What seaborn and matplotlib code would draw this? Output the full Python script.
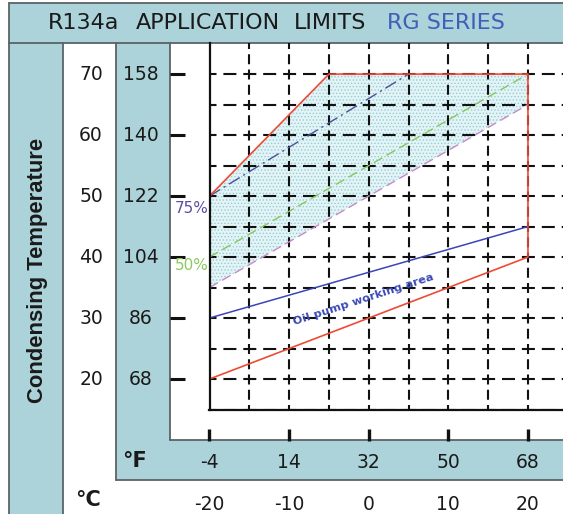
import matplotlib
matplotlib.use('Agg')
import matplotlib.pyplot as plt
import seaborn as sns
import pandas as pd
import numpy as np
from matplotlib.patches import Rectangle, Polygon
from matplotlib.lines import Line2D

# ---------------- data (°C) ----------------
envelope_x = [-20, -20, -5, 20, 20, -20]
envelope_y = [20, 50, 70, 70, 40, 20]
oil_x = [-20, 20]
oil_y = [30, 45]
pct75_x = [-20, 5]
pct75_y = [50, 70]
pct50_x = [-20, 20]
pct50_y = [40, 70]
lower_x = [-20, 20]
lower_y = [35, 65]
cond_c = [20, 30, 40, 50, 60, 70]
cond_f = ['68', '86', '104', '122', '140', '158']
evap_c = [-20, -10, 0, 10, 20]
evap_f = ['-4', '14', '32', '50', '68']
title_words = ['R134a', 'APPLICATION', 'LIMITS', 'RG SERIES']
oil_label = 'Oil pump working area'
y_title = 'Condensing Temperature'

sns.set_style('white')
plt.rcParams['font.family'] = ['DejaVu Sans']
plt.rcParams['hatch.linewidth'] = 0.6
plt.rcParams['lines.scale_dashes'] = False

W, H = 563, 514
fig = plt.figure(figsize=(W / 100, H / 100), dpi=100)
fig.patch.set_facecolor('white')

TEAL = '#abd3d9'
GRAY = '#5a6366'


def fx(x):
    return x / W


def fy(y):
    return 1 - y / H


def rect(x0, y0, x1, y1, color):
    fig.patches.append(Rectangle((fx(x0), fy(y1)), fx(x1) - fx(x0), fy(y0) - fy(y1),
                                 transform=fig.transFigure, facecolor=color,
                                 edgecolor='none', zorder=-2))


def hline(x0, x1, y, lw=1.3):
    fig.lines.append(Line2D([fx(x0), fx(x1)], [fy(y), fy(y)], transform=fig.transFigure,
                            color=GRAY, lw=lw, zorder=-1))


def vline(x, y0, y1, lw=1.3):
    fig.lines.append(Line2D([fx(x), fx(x)], [fy(y0), fy(y1)], transform=fig.transFigure,
                            color=GRAY, lw=lw, zorder=-1))


# background bands
rect(9, 3, W, 43, TEAL)
rect(9, 43, 63, H, TEAL)
rect(116, 43, 170, 480, TEAL)
rect(116, 440, W, 480, TEAL)
hline(9, W, 3)
vline(9, 3, H)
hline(9, W, 43)
vline(63, 43, H)
vline(116, 43, 480)
vline(170, 43, 440)
hline(170, W, 440)
hline(116, W, 480)

# title
title_cx = [83.5, 207.5, 330, 445.5]
title_col = ['#1a1a1a', '#1a1a1a', '#1a1a1a', '#3f5fb8']
for w, x, c in zip(title_words, title_cx, title_col):
    fig.text(fx(x), fy(23), w, fontsize=16, color=c, ha='center', va='center',
             fontweight='medium')

fig.text(fx(38), fy(270), y_title, rotation=90, fontsize=15.8, fontweight='bold',
         family='Liberation Sans', color='#1a1a1a', ha='center', va='center')
fig.text(fx(122), fy(461), '°F', fontsize=15, fontweight='bold', color='#1a1a1a',
         ha='left', va='center')
fig.text(fx(75), fy(500), '°C', fontsize=15, fontweight='bold', color='#1a1a1a',
         ha='left', va='center')

# ---------------- main axes ----------------
ax = fig.add_axes([fx(209.5), fy(409.5), fx(W) - fx(209.5), fy(43) - fy(409.5)])
ax.set_zorder(3)
ax.set_facecolor('none')
ax.set_xlim(-20, 24.4)
ax.set_ylim(15, 75.1)

# shaded 50-75% region
poly = [(lower_x[0], lower_y[0]), (envelope_x[1], envelope_y[1]),
        (envelope_x[2], envelope_y[2]), (envelope_x[3], envelope_y[3]),
        (lower_x[1], lower_y[1])]
ax.add_patch(Polygon(poly, closed=True, facecolor='#e3f4f6', edgecolor='#96cbd4',
                     hatch='.....', lw=0, zorder=1))

# grid
ax.set_xticks(np.arange(-20, 25, 5))
ax.set_yticks(np.arange(15, 75, 5))
ax.tick_params(length=0, labelbottom=False, labelleft=False)
px_pt = 0.72
ax.xaxis.grid(True, color='#111111', lw=1.5,
              linestyle=(5 * px_pt, (10 * px_pt, 5.25 * px_pt)), zorder=2)
ax.yaxis.grid(True, color='#111111', lw=1.5,
              linestyle=(6.5 * px_pt, (13 * px_pt, 6.9 * px_pt)), zorder=2)
ax.set_axisbelow(False)
for s in ['top', 'right']:
    ax.spines[s].set_visible(False)
for s in ['left', 'bottom']:
    ax.spines[s].set_color('#111111')
    ax.spines[s].set_linewidth(1.6)
    ax.spines[s].set_zorder(4)

# lines
sns.lineplot(x=pct75_x, y=pct75_y, ax=ax, color='#4a4f98', lw=1.0, sort=False,
             estimator=None, linestyle=(0, (9, 3, 1.5, 3)), zorder=3)
sns.lineplot(x=pct50_x, y=pct50_y, ax=ax, color='#86c85a', lw=1.0, sort=False,
             estimator=None, linestyle=(0, (7, 3.5)), zorder=3)
sns.lineplot(x=lower_x, y=lower_y, ax=ax, color='#c78ac8', lw=1.0, sort=False,
             estimator=None, linestyle=(0, (7, 3.5)), zorder=3)
sns.lineplot(x=oil_x, y=oil_y, ax=ax, color='#3b45b5', lw=1.1, sort=False,
             estimator=None, zorder=3)
sns.lineplot(x=envelope_x, y=envelope_y, ax=ax, color='#ee4a35', lw=1.2, sort=False,
             estimator=None, zorder=3)

ax.text(np.mean(oil_x) - 0.7, np.mean(oil_y) - 4.5, oil_label, rotation=18,
        fontsize=8.2, color='#3b4ab5', ha='center', va='center', zorder=5,
        fontweight='bold')
ax.text(envelope_x[0] - 0.15, pct75_y[0] - 2, '75%', fontsize=11, color='#5a50a8',
        ha='right', va='center', clip_on=False)
ax.text(envelope_x[0] - 0.15, pct50_y[0] - 1.4, '50%', fontsize=11, color='#8cc860',
        ha='right', va='center', clip_on=False)

# left axis labels and marks
ytr = ax.get_yaxis_transform()


def axfx(px):
    return (px - 209.5) / (W - 209.5)


for c, f in zip(cond_c, cond_f):
    ax.text(axfx(91), c, str(c), transform=ytr, fontsize=13.5, color='#1a1a1a',
            ha='center', va='center', clip_on=False)
    ax.text(axfx(141), c, f, transform=ytr, fontsize=13.5, color='#1a1a1a',
            ha='center', va='center', clip_on=False)
    ax.plot([axfx(170), axfx(185)], [c, c], transform=ytr, color='#111111', lw=2.2,
            solid_capstyle='butt', clip_on=False)

# bottom axis labels and marks
xtr = ax.get_xaxis_transform()


def ayf(py):
    return (409.5 - py) / (409.5 - 43)


for c, f in zip(evap_c, evap_f):
    ax.text(c, ayf(463), f, transform=xtr, fontsize=13.5, color='#1a1a1a',
            ha='center', va='center', clip_on=False)
    ax.text(c, ayf(505), str(c), transform=xtr, fontsize=13.5, color='#1a1a1a',
            ha='center', va='center', clip_on=False)
    ax.plot([c, c], [ayf(429), ayf(441)], transform=xtr, color='#111111', lw=2.4,
            solid_capstyle='butt', clip_on=False)

legend = ax.get_legend()
if legend:
    legend.remove()

fig.savefig('out.png', dpi=100)
